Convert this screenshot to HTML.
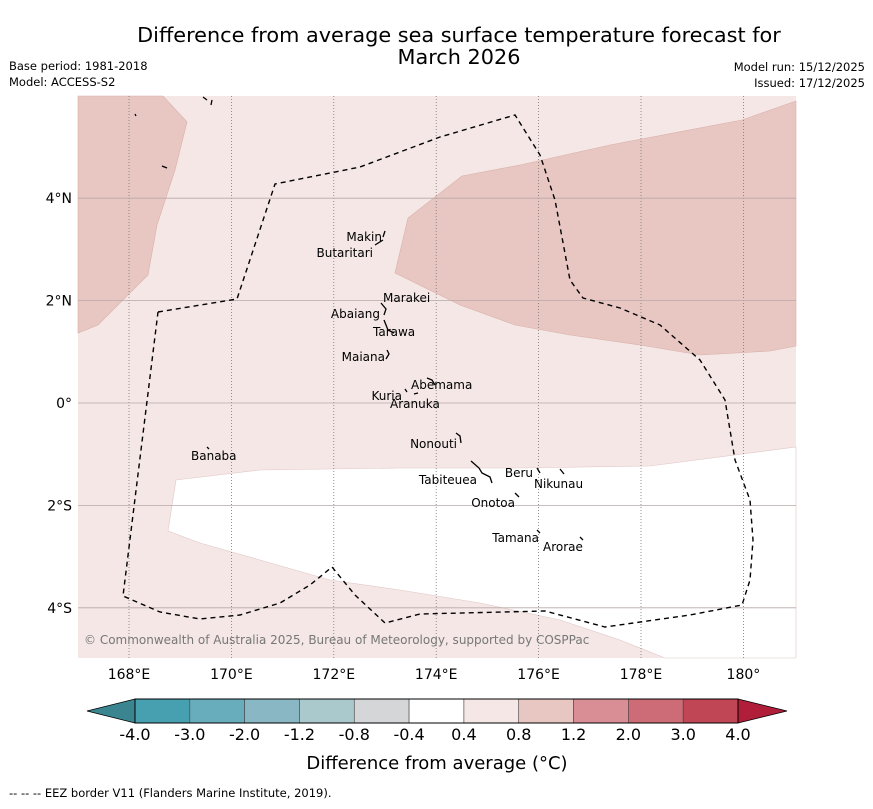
<!DOCTYPE html>
<html><head><meta charset="utf-8"><style>
body{margin:0;background:#fff;font-family:"Liberation Sans","DejaVu Sans",sans-serif;}
svg text{font-family:"DejaVu Sans","Liberation Sans",sans-serif;}
</style></head><body>
<svg width="873" height="804" xmlns="http://www.w3.org/2000/svg">
<text x="459" y="42" font-size="20.8" text-anchor="middle">Difference from average sea surface temperature forecast for</text>
<text x="459" y="64" font-size="20.8" text-anchor="middle">March 2026</text>
<text x="9" y="70" font-size="11.5">Base period: 1981-2018</text>
<text x="9" y="86" font-size="11.5">Model: ACCESS-S2</text>
<text x="865" y="71" font-size="11.5" text-anchor="end">Model run: 15/12/2025</text>
<text x="865" y="87" font-size="11.5" text-anchor="end">Issued: 17/12/2025</text>
<g>
<rect x="78" y="96" width="718" height="562" fill="#f4e7e6"/>
<polygon fill="#e8c7c2" stroke="#d9b0aa" stroke-width="0.6" points="78,96 163,96 187,122 175,170 157,225 148,275 98,325 78,333"/>
<polygon fill="#e8c7c2" stroke="#d9b0aa" stroke-width="0.6" points="395,273 408,218 462,176 520,165 610,145 742,120 796,101 796,346 770,351 700,355 640,345 570,335 515,325 460,305"/>
<polygon fill="#ffffff" stroke="#e0c8c5" stroke-width="0.6" points="176,480 260,470 400,468 520,468 650,466 796,447 796,658 665,658 620,640 560,620 480,603 400,590 330,580 260,560 200,543 168,531"/>
<g id="grid"></g>
<polyline fill="none" stroke="#000" stroke-width="1.4" stroke-dasharray="5,4" points="158,312 237,299 275,184 360,167 440,137 515,115 540,155 555,200 570,280 583,298 620,308 660,325 700,360 725,400 735,460 750,500 753,540 750,580 742,605 690,615 605,627 545,611 420,614 385,623 355,595 332,567 310,585 280,603 240,615 200,619 160,612 123,596 158,312"/>
<g fill="none" stroke="#000" stroke-width="1.3">
<path d="M385,231 l-2,6 M383,240 l-8,5 M381,303 l5,6 l-2,6 M384,320 l4,10 l6,3 M387,350 l2,4 l-3,5 M427,378 l5,2 l3,5 M405,389 l2,3 M414,394 l4,-1 M456,433 l4,3 l1,7 M471,461 l8,7 l3,5 l8,4 l2,6 M537,468 l3,5 M560,469 l4,5 M515,493 l4,4 M537,530 l3,3 M580,537 l3,3 M135,114 l1,2 M162,166 l5,2 M203,97 l4,3 M212,100 l-1,5 M207,447 l2,2"/>
</g>
<g id="islands" font-size="12"></g>
<text x="84" y="644" font-size="12" fill="#777">© Commonwealth of Australia 2025, Bureau of Meteorology, supported by COSPPac</text>
</g>
<g id="axes" font-size="14"></g>
<g id="cbar"></g>
<text x="437" y="769" font-size="18" text-anchor="middle">Difference from average (°C)</text>
<text x="9" y="797" font-size="11.5">--  --  -- EEZ border V11 (Flanders Marine Institute, 2019).</text>
</svg>
<script>
const lonTicks=[168,170,172,174,176,178,180];
const lonLabels=["168°E","170°E","172°E","174°E","176°E","178°E","180°"];
const latTicks=[4,2,0,-2,-4];
const latLabels=["4°N","2°N","0°","2°S","4°S"];
const cbLevels=["-4.0","-3.0","-2.0","-1.2","-0.8","-0.4","0.4","0.8","1.2","2.0","3.0","4.0"];
const cbColors=["#47a0b0","#68adbb","#89b8c4","#a9c9cd","#d5d6d7","#ffffff","#f4e7e6","#e8c7c2","#d98e96","#cd6c76","#c04555"];
const islands=[["Makin",382,241,"end"],["Butaritari",373,257,"end"],["Marakei",383,302,"start"],["Abaiang",380,318,"end"],["Tarawa",373,336,"start"],["Maiana",385,361,"end"],["Abemama",411,389,"start"],["Kuria",402,400,"end"],["Aranuka",390,408,"start"],["Nonouti",457,448,"end"],["Banaba",191,460,"start"],["Tabiteuea",477,484,"end"],["Beru",533,477,"end"],["Nikunau",534,488,"start"],["Onotoa",515,507,"end"],["Tamana",539,542,"end"],["Arorae",543,551,"start"]];
const NS="http://www.w3.org/2000/svg";
const X=l=>129+(l-168)*51.2, Y=a=>403-a*51.2;
function mk(t,at,p){const e=document.createElementNS(NS,t);for(const k in at)e.setAttribute(k,at[k]);p.appendChild(e);return e;}
const grid=document.getElementById('grid'),axes=document.getElementById('axes');
lonTicks.forEach((l,i)=>{
 const ln=mk('line',{x1:X(l),x2:X(l),y1:96,y2:658,stroke:'#777','stroke-width':0.8,'stroke-dasharray':'1,2'},grid);
 
 
 const t=mk('text',{x:X(l),y:679,'text-anchor':'middle'},axes);t.textContent=lonLabels[i];
 
 
});
latTicks.forEach((a,i)=>{
 const ln=mk('line',{x1:78,x2:796,y1:Y(a),y2:Y(a),stroke:'#b8a8a8','stroke-width':0.8},grid);
 
 
 const t=mk('text',{x:72,y:Y(a)+5,'text-anchor':'end'},axes);t.textContent=latLabels[i];
 
 
});
const isl=document.getElementById('islands');
islands.forEach(d=>{const t=mk('text',{x:d[1],y:d[2],'text-anchor':d[3]},isl);t.textContent=d[0];
 
 });
const cb=document.getElementById('cbar');const x0=135,x1=738,w=(x1-x0)/cbColors.length,y0=699,y1=723;
const lt=mk('polygon',{points:`${x0},${y0} ${x0},${y1} 87,711`,fill:'#3b8590',stroke:'#000','stroke-width':0.8},cb);


cbColors.forEach((c,i)=>{const r=mk('rect',{x:x0+i*w,y:y0,width:w,height:y1-y0,fill:c,stroke:'#444','stroke-width':0.6},cb);
 
 });
const rt=mk('polygon',{points:`${x1},${y0} ${x1},${y1} 787,711`,fill:'#b01e3a',stroke:'#000','stroke-width':0.8},cb);


mk('rect',{x:x0,y:y0,width:x1-x0,height:y1-y0,fill:'none',stroke:'#000','stroke-width':1},cb);
cbLevels.forEach((v,i)=>{const t=mk('text',{x:x0+i*w,y:740,'text-anchor':'middle','font-size':16},cb);t.textContent=v;
 
 });
</script>
</body></html>
